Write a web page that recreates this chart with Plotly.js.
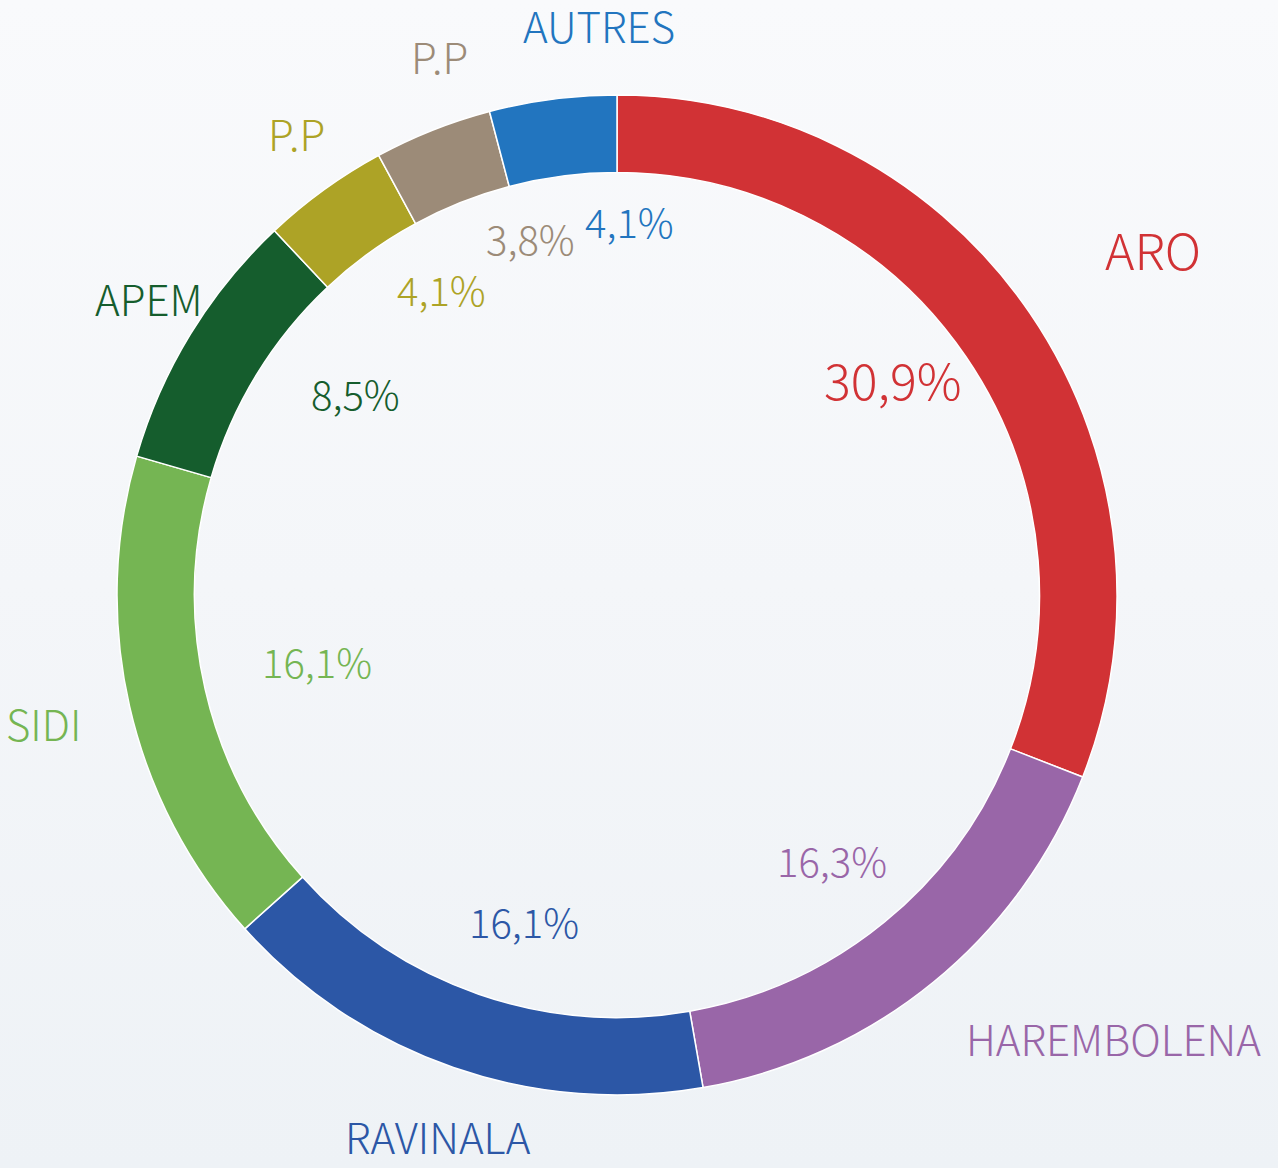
<!DOCTYPE html>
<html>
<head>
<meta charset="utf-8">
<script src="https://cdn.plot.ly/plotly-3.0.1.min.js"></script>
<style>
  html, body { margin: 0; padding: 0; }
  body { width: 1278px; height: 1168px; background: linear-gradient(to bottom, #f9fafc 0%, #f4f6f9 50%, #eef2f6 100%); }
  #chart { width: 1278px; height: 1168px; }
</style>
</head>
<body>
<div id="chart"></div>
<script>
// ---- data ----
const categories = ['ARO', 'HAREMBOLENA', 'RAVINALA', 'SIDI', 'APEM', 'P.P', 'P.P', 'AUTRES'];
const shares = [30.9, 16.3, 16.1, 16.1, 8.5, 4.1, 3.8, 4.1];
const colors = ['#d13235', '#9966a8', '#2c57a6', '#75b553', '#155d2d', '#ada326', '#9c8b78', '#2275bf'];

// ---- styling ----
const W = 1278, H = 1168;
const CX = 617, CY = 595, R = 500;     // pie centre / radius in px
const nameSizes = [50, 42, 42, 42, 42, 42, 42, 42];
const pctSizes = [50, 40, 40, 40, 40, 40, 40, 40];
const FONT = '"Noto Sans CJK JP", "Noto Sans", sans-serif';
const DEG = Math.PI / 180;
const RN = 548;                         // base radius of category names
const RPX = 320, RPY = 360, POX = 12, POY = -14;  // ellipse for percentages
const NAME_SEP = 17 * DEG, PCT_SEP = 18 * DEG;

const total = shares.reduce((a, b) => a + b, 0);
const fmt = v => v.toFixed(1).replace('.', ',') + '%';

const trace = {
  type: 'pie',
  values: shares,
  labels: categories.map((c, i) => c + ' ' + (i + 1)),
  text: categories,
  sort: false,
  direction: 'clockwise',
  rotation: 0,
  hole: 0.845,
  textinfo: 'none',
  hovertemplate: '%{text}: %{value}%<extra></extra>',
  marker: { colors: colors, line: { color: '#ffffff', width: 1.5 } },
  domain: {
    x: [(CX - R) / W, (CX + R) / W],
    y: [1 - (CY + R) / H, 1 - (CY - R) / H]
  },
  showlegend: false
};

// mid angles of slices (clockwise from 12 o'clock)
const mids = [];
let cum = 0;
shares.forEach(v => { mids.push(2 * Math.PI * (cum + v / 2) / total); cum += v; });

// scoot labels of thin neighbouring slices clockwise so they do not collide
function scoot(angles, sep) {
  const out = angles.slice();
  for (let i = 1; i < out.length; i++) out[i] = Math.max(out[i], out[i - 1] + sep);
  return out;
}
const nAng = scoot(mids, NAME_SEP);
const pAng = scoot(mids, PCT_SEP);

const annotations = [];
mids.forEach((_, i) => {
  const s = Math.sin(nAng[i]), c = Math.cos(nAng[i]);
  const rn = RN + (nameSizes[i] - 42) * 5;
  annotations.push({
    xref: 'paper', yref: 'paper',
    x: (CX + rn * s) / W, y: 1 - (CY - rn * c) / H,
    text: categories[i],
    showarrow: false,
    xanchor: s > 0.35 ? 'left' : (s < -0.9 ? 'right' : 'center'),
    yanchor: 'middle',
    yshift: c * nameSizes[i] * 0.55,
    height: Math.round(nameSizes[i] * 1.1),
    font: { family: FONT, size: nameSizes[i], color: colors[i], weight: 300 }
  });
  const ps = Math.sin(pAng[i]), pc = Math.cos(pAng[i]);
  annotations.push({
    xref: 'paper', yref: 'paper',
    x: (CX + POX + RPX * ps) / W, y: 1 - (CY + POY - RPY * pc) / H,
    text: fmt(shares[i]),
    showarrow: false,
    xanchor: 'center', yanchor: 'middle',
    font: { family: FONT, size: pctSizes[i], color: colors[i], weight: 300 }
  });
});

const layout = {
  width: W, height: H,
  margin: { l: 0, r: 0, t: 0, b: 0 },
  paper_bgcolor: 'rgba(0,0,0,0)',
  plot_bgcolor: 'rgba(0,0,0,0)',
  annotations: annotations,
  showlegend: false
};

Plotly.newPlot('chart', [trace], layout, { displayModeBar: false });
</script>
</body>
</html>
